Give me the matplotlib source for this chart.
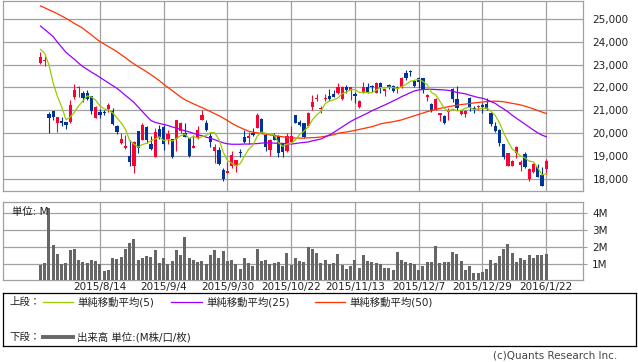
import numpy as np
import matplotlib
matplotlib.use("Agg")
import matplotlib.pyplot as plt

plt.rcParams['font.family'] = ['DejaVu Sans', 'Noto Sans CJK JP']

# daily OHLC (2015/7/27 .. 2016/1/22)
opens = [23085, 23140, 20848, 20965, 20453, 20526, 20482, 20497, 21594, 21959,
         21769, 21769, 21623, 20673, 20921, 20936, 21038, 20965, 20322, 19547,
         19357, 18991, 18567, 20088, 19693, 20278, 19518, 18962, 20175, 20248,
         19722, 19722, 19722, 20088, 19985, 19766, 19357, 19766, 20570, 20424,
         19868, 19225, 19254, 18377, 18260, 18553, 18553, 19181, 19839, 19795,
         20015, 20234, 20614, 19912, 19254, 19912, 19868, 19547, 19225, 19620,
         20789, 20497, 20424, 20307, 21126, 21491, 21052, 21491, 21623, 21711,
         21740, 21477, 22032, 21886, 21711, 21155, 21769, 22003, 22061, 21769,
         22208, 21857, 22105, 22061, 21915, 22003, 22646, 22734, 22280, 22398,
         22398, 21565, 21257, 21038, 20789, 20746, 20921, 21930, 21477, 20833,
         20833, 21550, 21111, 21126, 21228, 21257, 20863, 20307, 20132, 19518,
         18567, 18567, 19137, 18596, 19079, 17990, 18280, 18530, 18176, 18427]
highs = [23567, 23377, 20936, 20980, 20720, 20716, 20500, 21447, 22149, 22061,
         21857, 21886, 21640, 21184, 21038, 20990, 21330, 21082, 20340, 19985,
         19912, 19693, 19649, 20100, 20424, 20290, 19868, 20205, 20351, 20351,
         20132, 19735, 20580, 20470, 20424, 19780, 19912, 20307, 21009, 20570,
         19985, 19518, 19400, 18450, 18743, 19225, 18830, 19284, 20132, 20058,
         20205, 20863, 20643, 19930, 19722, 19985, 19912, 19560, 19985, 20307,
         20800, 20570, 20450, 20936, 21667, 21696, 21184, 21696, 21915, 21886,
         22178, 22061, 22105, 22032, 21813, 21470, 22251, 22208, 22105, 22251,
         22251, 21930, 22150, 22105, 22061, 22442, 22763, 22763, 22330, 22442,
         22410, 21700, 21300, 21520, 20880, 20790, 21082, 21974, 22061, 21009,
         21009, 21594, 21184, 21228, 21301, 21520, 20910, 20497, 20160, 19530,
         19137, 18800, 19430, 18800, 19181, 18450, 18680, 18640, 18523, 18867]
lows = [23040, 22953, 19985, 20570, 20058, 20307, 20190, 20453, 21491, 21594,
        21374, 21447, 20833, 20643, 20643, 20790, 20936, 20351, 19956, 19518,
        19284, 18567, 18231, 19108, 19680, 19576, 19270, 18950, 19722, 19254,
        19518, 18918, 19225, 20015, 19810, 18933, 19330, 19722, 20560, 20102,
        19401, 18670, 18596, 17909, 18231, 18450, 18304, 18962, 19547, 19518,
        19880, 20205, 19985, 19225, 18991, 19680, 18962, 18962, 19180, 19600,
        20420, 20307, 19766, 20280, 21009, 21404, 20892, 21404, 21420, 21570,
        21710, 21447, 21740, 21447, 21330, 21111, 21740, 21740, 21820, 21740,
        21740, 21623, 21930, 21820, 21770, 21960, 22325, 22500, 22040, 21959,
        21769, 21418, 20936, 21000, 20541, 20395, 20570, 21374, 21009, 20789,
        20687, 20980, 20892, 21009, 20892, 21009, 20307, 20058, 19444, 18845,
        18550, 18550, 18918, 18348, 18450, 17900, 18260, 18056, 17690, 18207]
closes = [23348, 23170, 20673, 20716, 20702, 20453, 20365, 21228, 21886, 22032,
          21520, 21491, 20980, 21155, 20804, 20863, 21228, 20380, 20029, 19737,
          19444, 18743, 19620, 19357, 20351, 19693, 19284, 20029, 19810, 19518,
          19942, 18962, 20570, 20453, 19839, 18991, 19444, 20132, 20789, 20132,
          19620, 19401, 18640, 17982, 18348, 19035, 18816, 19137, 19620, 19868,
          19912, 20789, 20015, 19371, 19693, 19693, 19137, 19181, 19868, 19868,
          20453, 20351, 19839, 20892, 21374, 21550, 21111, 21550, 21477, 21594,
          22003, 22003, 21886, 22003, 21623, 21418, 22032, 21769, 22003, 22208,
          21959, 21915, 22003, 21857, 22003, 22398, 22398, 22690, 22061, 22251,
          21915, 21667, 21009, 21491, 20863, 20424, 21009, 21491, 21082, 20965,
          20965, 21126, 21038, 21184, 21126, 21038, 20395, 20102, 19576, 18933,
          19108, 18787, 19401, 18743, 18494, 18427, 18647, 18060, 17692, 18793]

# volume, million shares
volume = [0.94, 1.02, 4.31, 2.08, 1.55, 0.96, 1.02, 1.78, 1.84, 1.20,
          1.08, 1.02, 1.20, 1.14, 0.96, 0.55, 0.61, 1.31, 1.25, 1.37,
          1.84, 2.20, 2.49, 1.20, 1.31, 1.43, 1.37, 1.78, 1.02, 1.31,
          0.96, 1.14, 1.78, 1.49, 2.61, 1.31, 1.20, 1.08, 1.14, 0.96,
          1.49, 1.78, 1.31, 1.73, 1.14, 1.20, 0.96, 0.67, 1.31, 1.02,
          0.84, 1.84, 1.14, 1.20, 0.96, 1.02, 1.08, 0.84, 1.61, 0.90,
          1.31, 1.14, 1.08, 1.96, 1.84, 1.61, 1.02, 1.20, 0.96, 1.02,
          1.55, 0.90, 0.67, 0.84, 1.20, 0.73, 1.49, 1.14, 1.08, 1.02,
          0.96, 0.73, 0.73, 0.61, 1.67, 1.20, 1.08, 1.02, 0.96, 0.61,
          0.84, 1.08, 1.08, 2.02, 1.02, 1.08, 1.08, 1.67, 1.55, 1.14,
          0.61, 0.84, 0.43, 0.43, 0.49, 0.67, 1.20, 1.02, 1.43, 1.84,
          2.14, 1.61, 1.08, 1.31, 1.20, 1.49, 1.31, 1.49, 1.49, 1.55]

ma5 = [23670, 23490, 22980, 22180, 21600, 21143, 20582, 20693, 20927, 21193,
       21406, 21631, 21582, 21436, 21190, 21059, 21006, 20886, 20661, 20447,
       20164, 19667, 19515, 19380, 19503, 19553, 19661, 19743, 19833, 19667,
       19717, 19652, 19760, 19889, 19953, 19763, 19859, 19772, 19839, 19898,
       20023, 20015, 19716, 19155, 18798, 18681, 18564, 18664, 18991, 19295,
       19471, 19865, 20041, 19991, 19956, 19912, 19582, 19415, 19514, 19549,
       19701, 19944, 20076, 20281, 20582, 20801, 20953, 21295, 21412, 21456,
       21547, 21725, 21793, 21898, 21904, 21787, 21792, 21769, 21769, 21886,
       21994, 21971, 22018, 21988, 21947, 22035, 22132, 22269, 22310, 22360,
       22263, 22117, 21781, 21667, 21389, 21091, 20959, 21056, 20974, 20994,
       21102, 21126, 21035, 21056, 21088, 21102, 20956, 20769, 20447, 20009,
       19623, 19301, 19161, 18994, 18907, 18770, 18742, 18474, 18162, 18222]
ma25 = [24690, 24540, 24380, 24225, 23980, 23760, 23540, 23380, 23230, 23060,
        22910, 22790, 22670, 22560, 22440, 22320, 22200, 22080, 21960, 21810,
        21650, 21500, 21340, 21140, 20940, 20740, 20550, 20470, 20420, 20380,
        20330, 20270, 20220, 20160, 20100, 20050, 19990, 19930, 19880, 19820,
        19770, 19710, 19640, 19570, 19530, 19510, 19510, 19510, 19520, 19520,
        19530, 19540, 19560, 19570, 19570, 19560, 19550, 19550, 19530, 19520,
        19540, 19570, 19590, 19610, 19660, 19700, 19740, 19830, 19920, 20030,
        20150, 20270, 20390, 20510, 20610, 20700, 20790, 20880, 20980, 21060,
        21150, 21230, 21320, 21410, 21500, 21600, 21680, 21770, 21850, 21890,
        21910, 21920, 21920, 21910, 21900, 21890, 21870, 21840, 21780, 21750,
        21720, 21660, 21610, 21560, 21530, 21460, 21380, 21300, 21170, 21060,
        20930, 20780, 20650, 20520, 20390, 20260, 20130, 20010, 19910, 19840]
ma50 = [25570, 25490, 25400, 25320, 25230, 25130, 25030, 24920, 24800, 24700,
        24590, 24440, 24300, 24150, 24010, 23900, 23790, 23680, 23570, 23430,
        23300, 23160, 23030, 22910, 22800, 22680, 22560, 22430, 22290, 22140,
        22000, 21860, 21720, 21580, 21460, 21370, 21280, 21200, 21120, 21030,
        20940, 20850, 20760, 20660, 20550, 20430, 20330, 20240, 20160, 20080,
        20040, 20010, 19980, 19950, 19920, 19890, 19860, 19840, 19800, 19790,
        19780, 19780, 19780, 19790, 19800, 19810, 19830, 19860, 19890, 19930,
        19990, 20020, 20050, 20080, 20120, 20160, 20200, 20240, 20280, 20340,
        20400, 20440, 20470, 20500, 20540, 20580, 20640, 20700, 20760, 20820,
        20880, 20940, 20990, 21040, 21080, 21120, 21160, 21190, 21220, 21250,
        21270, 21300, 21320, 21340, 21360, 21380, 21390, 21400, 21390, 21370,
        21340, 21300, 21270, 21230, 21180, 21120, 21060, 20990, 20920, 20860]

tick_idx = [14, 29, 44, 59, 74, 89, 104, 119]
tick_labels = ['2015/8/14', '2015/9/4', '2015/9/30', '2015/10/22',
               '2015/11/13', '2015/12/7', '2015/12/29', '2016/1/22']
price_ticks = [18000, 19000, 20000, 21000, 22000, 23000, 24000, 25000]
vol_ticks = [1, 2, 3, 4]

RED = '#ff0033'
BLUE = '#003399'
GRID = '#a0a0a0'
W, H = 638, 362

fig = plt.figure(figsize=(W / 100, H / 100), dpi=100)


def px_axes(x0, y0, x1, y1):
    # axes from pixel box (top-left origin)
    return fig.add_axes([x0 / W, 1 - y1 / H, (x1 - x0) / W, (y1 - y0) / H])


x = np.arange(len(closes))
o = np.array(opens)
c = np.array(closes)
up = c >= o
cols = np.where(up, RED, BLUE)
xlim = (-8.82, 127.65)

# price panel
ax = px_axes(3, 0.5, 583, 190.5)
ax.vlines(x, lows, highs, colors=cols, lw=0.8, zorder=3)
body = np.maximum(np.abs(c - o), 45)
ax.bar(x, body, bottom=np.minimum(o, c), width=0.72, color=cols, lw=0, zorder=4)
ax.plot(x, ma50, color='#ff3300', lw=0.9, zorder=5)
ax.plot(x, ma25, color='#9900ff', lw=0.9, zorder=5)
ax.plot(x, ma5, color='#99cc00', lw=0.9, zorder=6)
ax.set_xlim(*xlim)
ax.set_ylim(17483, 25811)
ax.set_xticks(tick_idx)
ax.set_xticklabels([])
ax.set_yticks(price_ticks)
ax.set_yticklabels([f'{v:,}' for v in price_ticks])
ax.yaxis.tick_right()
ax.tick_params(axis='both', length=0, labelsize=7.5, colors='#222222')
ax.tick_params(axis='y', pad=7)
ax.grid(True, color=GRID, lw=0.9)
ax.set_axisbelow(True)
for s in ax.spines.values():
    s.set_color(GRID)
    s.set_linewidth(0.9)

# volume panel
ax2 = px_axes(3, 201.7, 583, 280.3)
ax2.bar(x, volume, width=0.7, color='#666666', lw=0, zorder=3)
ax2.set_xlim(*xlim)
ax2.set_ylim(0, 4.69)
ax2.set_xticks(tick_idx)
ax2.set_xticklabels(tick_labels)
ax2.set_yticks(vol_ticks)
ax2.set_yticklabels([f'{v}M' for v in vol_ticks])
ax2.yaxis.tick_right()
ax2.tick_params(axis='x', length=0, pad=1.5, labelsize=7.5, colors='#222222')
ax2.tick_params(axis='y', length=3, pad=3.5, labelsize=7.5, colors='#222222')
ax2.tick_params(axis='y', color=GRID)
ax2.grid(True, color=GRID, lw=0.9)
ax2.set_axisbelow(True)
for s in ax2.spines.values():
    s.set_color(GRID)
    s.set_linewidth(0.9)
ax2.text(0.015, 0.93, '単位: M', transform=ax2.transAxes, fontsize=7.5,
         va='top', ha='left', color='#222222', zorder=5)

# legend box
lg = px_axes(3, 293, 636, 346)
lg.set_xlim(3, 636)
lg.set_ylim(346, 293)
lg.set_xticks([])
lg.set_yticks([])
for s in lg.spines.values():
    s.set_color('black')
    s.set_linewidth(0.9)
fs = 7.5
lg.text(9, 302, '上段：', fontsize=fs, va='center', color='#222222')
lg.plot([43, 73], [302, 302], color='#99cc00', lw=0.9)
lg.text(77, 302, '単純移動平均(5)', fontsize=fs, va='center', color='#222222')
lg.plot([171, 202], [302, 302], color='#9900ff', lw=0.9)
lg.text(206, 302, '単純移動平均(25)', fontsize=fs, va='center', color='#222222')
lg.plot([315, 345], [302, 302], color='#ff3300', lw=0.9)
lg.text(349, 302, '単純移動平均(50)', fontsize=fs, va='center', color='#222222')
lg.text(9, 337, '下段：', fontsize=fs, va='center', color='#222222')
lg.plot([43, 73], [337, 337], color='#666666', lw=2.8)
lg.text(77, 337, '出来高 単位:(M株/口/枚)', fontsize=fs, va='center', color='#222222')

fig.text(617 / W, 1 - 355 / H, '(c)Quants Research Inc.', fontsize=7.5,
         ha='right', va='center', color='#444444')

fig.savefig('out.png', dpi=100)
